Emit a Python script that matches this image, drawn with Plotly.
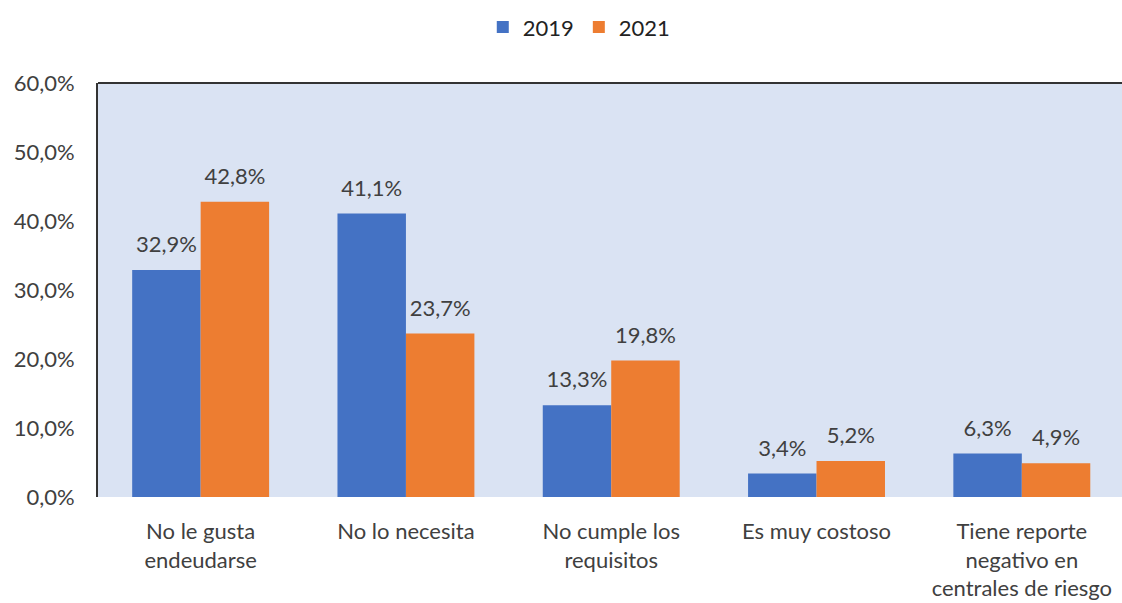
import plotly.graph_objects as go

categories = ["No le gusta<br>endeudarse", "No lo necesita", "No cumple los<br>requisitos",
              "Es muy costoso", "Tiene reporte<br>negativo en<br>centrales de riesgo"]
v2019 = [32.9, 41.1, 13.3, 3.4, 6.3]
v2021 = [42.8, 23.7, 19.8, 5.2, 4.9]
ytick_vals = [0, 10, 20, 30, 40, 50, 60]
ytick_text = ["0,0%", "10,0%", "20,0%", "30,0%", "40,0%", "50,0%", "60,0%"]

FONT = "Lato"
FS = 22
TXT = "#404040"
GAP = 0.333

fig = go.Figure()
series = [("2019", v2019, "#4472C4"), ("2021", v2021, "#ED7D31")]
for name, vals, col in series:
    fig.add_trace(go.Bar(
        x=categories, y=vals, name=name, offsetgroup=name,
        marker=dict(color=col, line=dict(width=0)),
    ))
for name, vals, col in series:
    fig.add_trace(go.Scatter(
        x=categories, y=vals, mode="markers+text", offsetgroup=name,
        marker=dict(size=18, opacity=0, color=col),
        texttemplate="%{y:.1f}%", textposition="top center", cliponaxis=False,
        textfont=dict(family=FONT, size=FS, color=TXT), showlegend=False, hoverinfo="skip",
    ))

fig.update_layout(
    width=1122, height=603,
    separators=",.",
    margin=dict(l=98, r=0, t=83, b=106),
    paper_bgcolor="white",
    plot_bgcolor="#DAE3F3",
    barmode="group", scattermode="group",
    bargap=GAP, bargroupgap=0, scattergap=GAP,
    font=dict(family=FONT, size=FS, color=TXT),
    legend=dict(orientation="h", x=0.47, xanchor="center", y=1.135, yanchor="middle",
                font=dict(family=FONT, size=FS, color="#222222"), itemwidth=30,
                traceorder="normal"),
    xaxis=dict(range=[-0.5, 4.488], showgrid=False, showline=False, ticks="",
               tickfont=dict(family=FONT, size=FS, color=TXT), ticklabelstandoff=19),
    yaxis=dict(range=[0, 60], tickvals=ytick_vals, ticktext=ytick_text, showgrid=False,
               zeroline=False, showline=True, linecolor="#333333", linewidth=2,
               ticks="", ticklabelstandoff=17,
               tickfont=dict(family=FONT, size=FS, color=TXT)),
    shapes=[dict(type="line", xref="paper", yref="paper", x0=0, x1=1, y0=1, y1=1,
                 line=dict(color="#333333", width=2))],
)

fig.write_html("out.html")
